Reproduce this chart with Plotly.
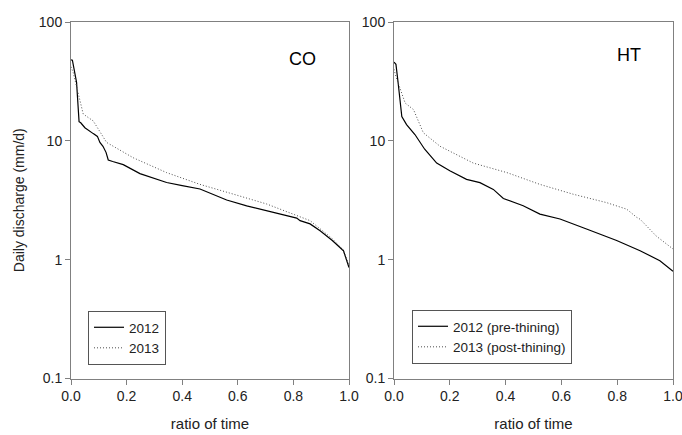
import plotly.graph_objects as go

# CO panel
co_x_2012 = [0.0, 0.005, 0.02, 0.029, 0.035, 0.05, 0.08, 0.095, 0.104, 0.115, 0.126, 0.134, 0.15, 0.188, 0.248, 0.3, 0.344, 0.4, 0.464, 0.56, 0.632, 0.728, 0.812, 0.824, 0.86, 0.896, 0.94, 0.98, 1.0]
co_y_2012 = [48, 47.7, 31, 14.5, 14.2, 12.9, 11.5, 10.9, 9.7, 9.0, 8.0, 6.9, 6.7, 6.3, 5.3, 4.8, 4.46, 4.2, 3.93, 3.18, 2.84, 2.5, 2.24, 2.13, 2.0, 1.75, 1.45, 1.19, 0.86]
co_x_2013 = [0.0, 0.008, 0.044, 0.08, 0.128, 0.224, 0.344, 0.464, 0.584, 0.704, 0.86, 0.9, 0.94, 0.98, 1.0]
co_y_2013 = [42, 37.5, 16.8, 14.7, 9.7, 7.2, 5.4, 4.3, 3.56, 2.94, 2.13, 1.8, 1.5, 1.2, 0.9]

# HT panel
ht_x_2012 = [0.0, 0.007, 0.015, 0.028, 0.045, 0.075, 0.11, 0.153, 0.2, 0.26, 0.308, 0.356, 0.392, 0.463, 0.523, 0.595, 0.69, 0.798, 0.882, 0.953, 1.0]
ht_y_2012 = [46, 44, 30.5, 16, 13.7, 11.3, 8.5, 6.5, 5.6, 4.74, 4.45, 3.9, 3.27, 2.84, 2.42, 2.2, 1.81, 1.45, 1.19, 0.98, 0.8]
ht_x_2013 = [0.0, 0.007, 0.04, 0.07, 0.105, 0.165, 0.284, 0.405, 0.523, 0.643, 0.762, 0.834, 0.87, 0.882, 0.94, 1.0]
ht_y_2013 = [40, 34.7, 20.8, 18.3, 11.7, 9.0, 6.5, 5.4, 4.3, 3.55, 3.02, 2.66, 2.27, 2.19, 1.58, 1.23]

x_ticks = [0.0, 0.2, 0.4, 0.6, 0.8, 1.0]
x_tick_text = ["0.0", "0.2", "0.4", "0.6", "0.8", "1.0"]
y_ticks = [0.1, 1, 10, 100]
y_tick_text = ["0.1", "1", "10", "100"]

FONT = "Arial, Liberation Sans, sans-serif"
solid = dict(color="black", width=1.2)
dotted = dict(color="#4d4d4d", width=1, dash="1px,2px")

fig = go.Figure()
fig.add_trace(go.Scatter(x=co_x_2012, y=co_y_2012, mode="lines", line=solid, name="2012", xaxis="x", yaxis="y", legend="legend"))
fig.add_trace(go.Scatter(x=co_x_2013, y=co_y_2013, mode="lines", line=dotted, name="2013", xaxis="x", yaxis="y", legend="legend"))
fig.add_trace(go.Scatter(x=ht_x_2012, y=ht_y_2012, mode="lines", line=solid, name="2012 (pre-thining)", xaxis="x2", yaxis="y2", legend="legend2"))
fig.add_trace(go.Scatter(x=ht_x_2013, y=ht_y_2013, mode="lines", line=dotted, name="2013 (post-thining)", xaxis="x2", yaxis="y2", legend="legend2"))

W, H = 682, 435
ydom = [1 - 378.5 / H, 1 - 22 / H]

def xax(dom, anchor):
    return dict(domain=dom, anchor=anchor, range=[0, 1], tickvals=x_ticks, ticktext=x_tick_text,
                ticks="outside", ticklen=5, tickcolor="#808080", showline=True, linecolor="#808080",
                linewidth=1, mirror=True, showgrid=False, zeroline=False, automargin=False,
                ticklabeloverflow="allow",
                tickfont=dict(size=14, color="#222", family=FONT),
                title=dict(text="ratio of time", font=dict(size=15, color="#222", family=FONT), standoff=15))

def yax(anchor, title):
    d = dict(domain=ydom, anchor=anchor, type="log", range=[-1, 2], tickvals=y_ticks, ticktext=y_tick_text,
             ticks="outside", ticklen=5, tickcolor="#808080", showline=True, linecolor="#808080",
             linewidth=1, mirror=True, showgrid=False, zeroline=False, automargin=False,
             ticklabeloverflow="allow",
             tickfont=dict(size=14, color="#222", family=FONT))
    if title:
        d["title"] = dict(text=title, font=dict(size=14, color="#222", family=FONT), standoff=10)
    return d

legend_common = dict(bordercolor="#555555", borderwidth=1, bgcolor="white",
                     font=dict(size=13.5, color="#222", family=FONT), xanchor="left", yanchor="top",
                     tracegroupgap=0, itemwidth=30)

fig.update_layout(
    width=W, height=H, margin=dict(l=0, r=0, t=0, b=0, autoexpand=False),
    paper_bgcolor="white", plot_bgcolor="white",
    font=dict(family=FONT),
    xaxis=xax([71 / W, 349 / W], "y"),
    yaxis=yax("x", "Daily discharge (mm/d)"),
    xaxis2=xax([394 / W, 673 / W], "y2"),
    yaxis2=yax("x2", None),
    legend=dict(x=88 / W, y=1 - 311 / H, **legend_common),
    legend2=dict(x=412 / W, y=1 - 310 / H, **legend_common),
    annotations=[
        dict(text="CO", x=0.888, y=0.93, xref="x domain", yref="y domain", showarrow=False,
             font=dict(size=18, color="black", family=FONT)),
        dict(text="HT", x=0.892, y=0.94, xref="x2 domain", yref="y2 domain", showarrow=False,
             font=dict(size=18, color="black", family=FONT)),
    ],
)

fig.write_html("out.html")
